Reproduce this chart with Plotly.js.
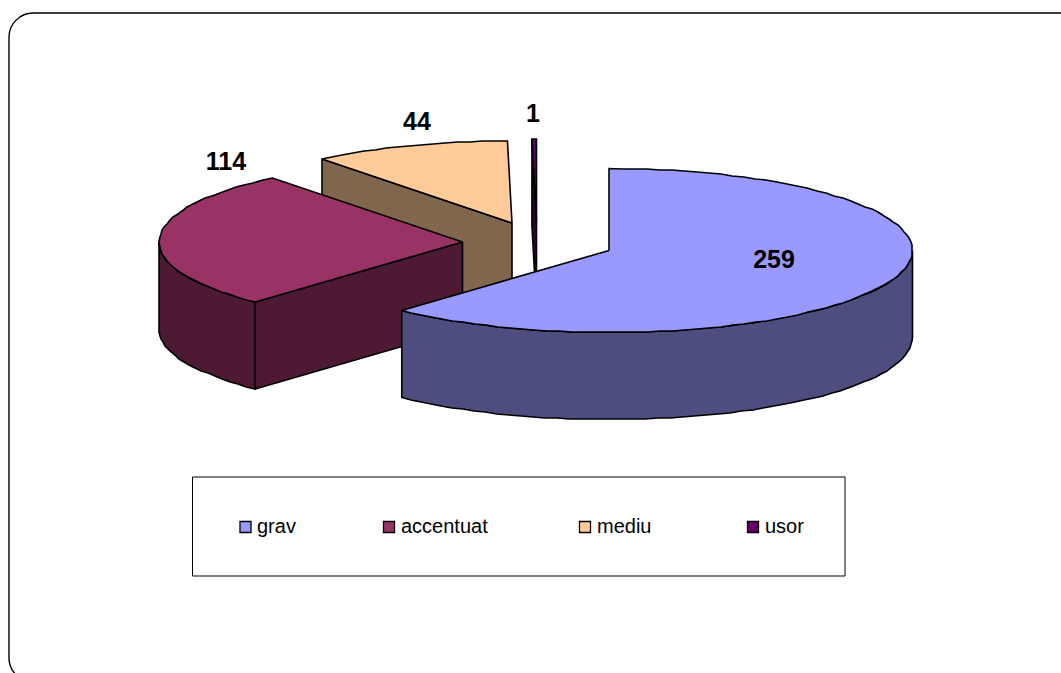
<!DOCTYPE html>
<html>
<head>
<meta charset="utf-8">
<script src="https://cdn.plot.ly/plotly-3.0.1.min.js"></script>
<style>html,body{margin:0;padding:0;background:#fff}#chart{width:1061px;height:673px}</style>
</head>
<body>
<div id="chart"></div>
<script>
// Data
const categories = ['grav', 'accentuat', 'mediu', 'usor'];
const values = [259, 114, 44, 1];
// Styles
const topColors = ['#9999FF', '#993366', '#FFCC99', '#660066'];
const sideColors = ['#4D4D80', '#4D1933', '#80664D', '#330033'];
// Layout geometry of the exploded 3D pie (pixels of the picture)
const apexX = [609, 462.5, 512, 536.5];
const apexY = [250.5, 242, 223, 221];
const radiusX = 303.5, radiusY = 82, depth = 87;
const labelX = [774, 226, 417, 533];
const labelY = [262, 164, 124, 116];
const legendMarkerX = [245.5, 389, 585, 753];
const legendTextX = [257, 401, 597, 765];
const legendY = 527;
const drawOrder = [2, 3, 1, 0];
const FONT = '"Liberation Sans", Arial, sans-serif';

const total = values.reduce((a, b) => a + b, 0);
const starts = [];
let run = 0;
values.forEach(v => { starts.push(run); run += v / total * 360; });
const ends = values.map((v, i) => starts[i] + v / total * 360);
const rad = d => d * Math.PI / 180;
const outer = (i, a) => [apexX[i] + radiusX * Math.sin(rad(a)), apexY[i] - radiusY * Math.cos(rad(a))];

function arc(i, a0, a1) {
  const n = Math.max(2, Math.ceil((a1 - a0) / 2.4));
  const pts = [];
  for (let k = 0; k <= n; k++) {
    const p = outer(i, a0 + (a1 - a0) * k / n);
    // the original's arcs are slightly stepped, snapped to whole pixels
    pts.push(k === 0 || k === n ? p : [Math.round(p[0]), Math.round(p[1])]);
  }
  return pts;
}
function poly(pts, fill) {
  return {
    type: 'scatter', mode: 'lines', x: pts.map(p => p[0]).concat(pts[0][0]), y: pts.map(p => p[1]).concat(pts[0][1]),
    fill: 'toself', fillcolor: fill, line: {color: '#000', width: 1.6, simplify: false}, hoverinfo: 'skip', showlegend: false
  };
}
const traces = [];
drawOrder.forEach(i => {
  const s = starts[i], e = ends[i];
  const a0 = Math.max(s, 90), a1 = Math.min(e, 270);
  if (a1 > a0) {
    const top = arc(i, a0, a1);
    const bottom = top.map(p => [p[0], p[1] + depth]).reverse();
    traces.push(poly(top.concat(bottom), sideColors[i]));
  }
  if (s > 180) {
    const o = outer(i, s), c = [apexX[i], apexY[i]];
    traces.push(poly([c, o, [o[0], o[1] + depth], [c[0], c[1] + depth]], sideColors[i]));
  }
  traces.push(poly([[apexX[i], apexY[i]]].concat(arc(i, s, e)), topColors[i]));
});
// value labels
traces.push({
  type: 'scatter', mode: 'text', x: labelX, y: labelY, text: values.map(String), textposition: 'middle center',
  textfont: {family: FONT, size: 25, color: '#000', weight: 700}, hoverinfo: 'skip', showlegend: false
});
// legend entries
categories.forEach((c, i) => {
  traces.push({
    type: 'scatter', mode: 'markers', x: [legendMarkerX[i]], y: [legendY],
    marker: {symbol: 'square', size: 11, color: topColors[i], line: {color: '#000', width: 1.3}},
    hoverinfo: 'skip', showlegend: false, name: c
  });
  traces.push({
    type: 'scatter', mode: 'text', x: [legendTextX[i]], y: [legendY + 1], text: [c], textposition: 'middle right',
    textfont: {family: FONT, size: 20, color: '#000'}, hoverinfo: 'skip', showlegend: false, name: c
  });
});

const layout = {
  width: 1061, height: 673, margin: {l: 0, r: 0, t: 0, b: 0},
  paper_bgcolor: '#fff', plot_bgcolor: '#fff', showlegend: false,
  xaxis: {range: [0, 1061], visible: false, fixedrange: true},
  yaxis: {range: [673, 0], visible: false, fixedrange: true},
  shapes: [
    {type: 'path', path: 'M 1100 13 L 33 13 C 20 13 9 24 9 37 L 9 658 C 9 671 20 682 33 682 L 1100 682',
     xref: 'x', yref: 'y', line: {color: '#000', width: 1.4}, layer: 'below'},
    {type: 'rect', x0: 192.5, x1: 845, y0: 477, y1: 576, xref: 'x', yref: 'y', line: {color: '#000', width: 1}, layer: 'below'}
  ]
};
Plotly.newPlot('chart', traces, layout, {displayModeBar: false, staticPlot: true});
</script>
</body>
</html>
